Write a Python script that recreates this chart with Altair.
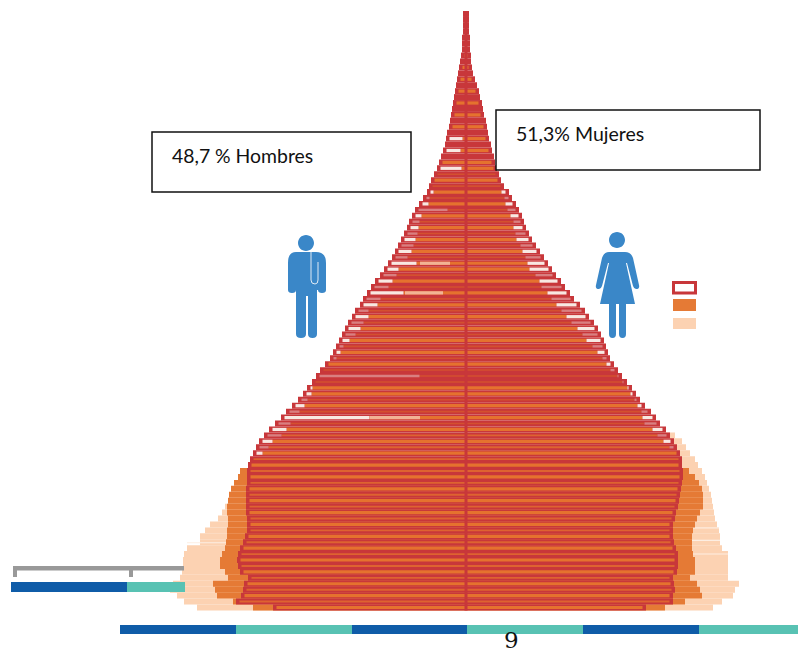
import altair as alt
import pandas as pd

# Population per one-year age group, ages 0..100 (116 units = one axis segment)
male = [193, 230, 225, 223, 222, 218, 226, 228, 229, 228,
        226, 223, 221, 219, 219, 219, 220, 220, 220, 220,
        220, 219, 219, 219, 218, 216, 213, 210, 207, 202,
        197, 191, 185, 180, 174, 168, 163, 159, 154, 150,
        146, 141, 136, 133, 130, 127, 124, 121, 118, 114,
        111, 106, 103, 99, 95, 91, 86, 82, 78, 74,
        71, 68, 65, 62, 59, 57, 54, 51, 47, 43,
        39, 37, 35, 32, 29, 27, 25, 23, 21, 20,
        19, 17, 16, 15, 14, 13, 12, 11, 10, 9,
        8, 7, 6, 5, 4, 4, 4, 3, 3, 3, 3]
female = [180, 207, 207, 209, 208, 207, 211, 212, 212, 212,
          210, 208, 207, 207, 207, 209, 210, 212, 213, 214,
          215, 216, 217, 217, 216, 216, 214, 211, 208, 204,
          200, 194, 190, 185, 179, 174, 170, 166, 161, 156,
          152, 148, 144, 142, 140, 138, 135, 132, 128, 123,
          119, 114, 108, 104, 99, 95, 90, 86, 82, 78,
          74, 70, 66, 63, 60, 58, 56, 53, 50, 46,
          43, 38, 35, 33, 31, 29, 28, 26, 25, 23,
          22, 21, 20, 18, 17, 16, 14, 13, 11, 9,
          7, 6, 5, 5, 4, 4, 4, 3, 3, 3, 3]
# Second series, ages 0..23
male_mid = [213, 233, 249, 251, 253, 238, 241, 246, 246, 244, 241, 240,
            239, 239, 238, 238, 239, 239, 238, 237, 235, 232, 228, 226]
female_mid = [199, 219, 236, 234, 231, 224, 229, 229, 229, 227, 226, 226,
              226, 227, 229, 231, 234, 237, 237, 237, 236, 233, 229, 223]
# Third series, ages 0..17 (men) and 0..29 (women)
male_far = [269, 282, 289, 296, 293, 286, 284, 283, 283, 282, 279, 266,
            266, 261, 256, 248, 244, 241]
female_far = [247, 256, 267, 269, 273, 262, 262, 262, 262, 262, 256, 254,
              254, 253, 251, 249, 248, 247, 246, 245, 243, 241, 239, 236,
              232, 229, 224, 220, 216, 209]
# Length of the pale end of each row, ages 0..100
tip_m = [0] * 26 + [6, 9, 10, 14, 14, 12, 85, 10, 9, 6, 5, 2, 0, 100,
                    0, 0, 3, 4, 4, 7, 10, 12, 12, 13, 10, 14, 14, 33, 14, 14,
                    13, 11, 25, 12, 13, 12, 11, 10, 8, 7, 6, 29, 6, 3, 3,
                    0, 0, 0, 21, 0, 0, 14, 0, 13] + [0] * 21
tip_f = [0] * 27 + [4, 7, 9, 10, 12, 10, 6, 4, 2, 2, 1, 1, 1,
                    4, 4, 4, 7, 10, 14, 15, 17, 19, 19, 20, 20, 19, 19, 20, 18,
                    17, 19, 17, 15, 14, 12, 12, 10, 9, 7, 8, 8, 7, 4, 4] + [0] * 30
bright_ages = [a for a in range(0, 37, 2)] + [37] + [a for a in range(41, 58, 2)] + \
              [a for a in range(58, 75, 2)] + [a for a in range(75, 101, 2)]
# Long pale rows that fade into the stripe: age, outer end, inner end (men's side)
fade_rows = [(32, 96, 46), (53, 61, 23), (58, 46, 16)]
# Faint breaks in the third series: age, inner end, outer end
pale_gaps = [(10.9, -279, -238), (13.4, 207, 253), (11.3, 208, 254), (9.0, 212, 262)]
# Bottom and left strips
strip_edges = [-346, -230, -114, 1, 117, 233, 340]
stub_edges = [-455, -339, -281]
strip_colors = ["#0f5ca8", "#58c2b3"]

RED = "#c8373a"
ORANGE = "#e57a35"
STRIPE = "#e5722e"
DIM = "#d4502f"
DIM_LOW = "#de6330"
LIGHT = "#fcd2b2"
BLUE = "#3a87c8"
WHITE_TIP = "#f8e8e2"
PINK_TIP = "#d97f80"

xs = alt.Scale(domain=[-458, 332], nice=False, zero=False)
ys = alt.Scale(domain=[-7.329, 101.01], nice=False, zero=False)


def rows(records):
    return pd.DataFrame(records, columns=["x0", "x1", "y0", "y1", "c"])


def rect_layer(df):
    return alt.Chart(df).mark_rect(strokeWidth=0).encode(
        x=alt.X("x0:Q", scale=xs, axis=None),
        x2="x1:Q",
        y=alt.Y("y0:Q", scale=ys, axis=None),
        y2="y1:Q",
        color=alt.Color("c:N", scale=None, legend=None),
    )


light, mid, red, dim, bright, tips, fades, gaps = [], [], [], [], [], [], [], []
for a, v in enumerate(male_far):
    light.append((-v, 0, a - 0.5, a + 0.5, LIGHT))
for a, v in enumerate(female_far):
    light.append((0, v, a - 0.5, a + 0.5, LIGHT))
for a, v in enumerate(male_mid):
    mid.append((-v, 0, a - 0.5, a + 0.5, ORANGE))
for a, v in enumerate(female_mid):
    mid.append((0, v, a - 0.5, a + 0.5, ORANGE))
for a in range(101):
    red.append((-male[a], female[a], a - 0.5, a + 0.5, RED))
    is_bright = a in bright_ages
    half = 0.27 if is_bright else (0.16 if a < 30 else 0.13)
    tip_half = 0.27 if is_bright else 0.2
    for sign, edge, tip in ((-1, male[a], tip_m[a]), (1, female[a], tip_f[a])):
        outer = max(edge - 3.5, 0)
        inner = max(outer - tip, 0)
        if is_bright:
            bright.append((0, sign * inner, a - half, a + half, STRIPE))
        elif a < 75:
            dim.append((0, sign * inner, a - half, a + half, DIM_LOW if a < 30 else DIM))
        if tip > 0:
            tips.append((sign * inner, sign * outer, a - tip_half, a + tip_half,
                         WHITE_TIP if is_bright else PINK_TIP))
for a, o, i in fade_rows:
    fades.append((-o, -i, a - 0.27, a + 0.27, "#f2b394"))
for a, p, q in pale_gaps:
    gaps.append((p, q, a - 0.08, a + 0.08, "#fdeee2"))
center = [(-1.5, 1.5, -0.5, 100.5, RED)]

layers = [rect_layer(rows(r)) for r in (light, gaps, mid, red, dim, bright, tips, fades, center)]

# strips
strip_df = pd.DataFrame({
    "x0": strip_edges[:-1], "x1": strip_edges[1:],
    "c": [strip_colors[i % 2] for i in range(len(strip_edges) - 1)]})
stub_df = pd.DataFrame({
    "x0": stub_edges[:-1], "x1": stub_edges[1:],
    "c": [strip_colors[i % 2] for i in range(len(stub_edges) - 1)]})


def strip(df, top, bottom):
    return alt.Chart(df).mark_rect(strokeWidth=0).encode(
        x=alt.X("x0:Q", scale=xs, axis=None), x2="x1:Q",
        y=alt.value(top - 8), y2=alt.value(bottom - 8),
        color=alt.Color("c:N", scale=None, legend=None))


def box(x0, x1, y0, y1, fill, stroke=None, sw=0):
    kw = {"fill": fill, "strokeWidth": sw}
    if stroke:
        kw["stroke"] = stroke
    return alt.Chart(pd.DataFrame({"k": [0]})).mark_rect(**kw).encode(
        x=alt.value(x0 - 8), x2=alt.value(x1 - 8),
        y=alt.value(y0 - 8), y2=alt.value(y1 - 8))


def label(text, x, y, size, font):
    return alt.Chart(pd.DataFrame({"t": [text]})).mark_text(
        align="left", baseline="alphabetic", fontSize=size, font=font, color="#111111"
    ).encode(x=alt.value(x - 8), y=alt.value(y - 8), text="t:N")


def icon(path, x, y, **kw):
    return alt.Chart(pd.DataFrame({"k": [0]})).mark_point(
        shape=path, size=4, opacity=1, **kw
    ).encode(x=alt.value(x - 8), y=alt.value(y - 8))


MAN = ("M-8,-47a8,8 0 1,0 16,0a8,8 0 1,0 -16,0Z "
       "M-10,-38 L10,-38 Q20,-38 20,-27 L20,0 Q20,3 16,3 Q12,3 12,0 L11,0 L11,44 "
       "Q11,48 6.5,48 Q2,48 2,44 L2,6 L0,6 L0,44 Q0,48 -5,48 Q-10,48 -10,44 L-10,0 "
       "Q-10,3 -14,3 Q-18,3 -18,0 L-18,-27 Q-18,-38 -10,-38Z")
POCKET = "M5,-38 L5,-10 Q5,-6 9,-6 Q12,-6 12,-10 L12,-28"
WOMAN = ("M-8,-50a8,8 0 1,0 16,0a8,8 0 1,0 -16,0Z "
         "M-8,-38 L8,-38 Q14,-38 16,-32 L22,-5 Q23,-1 19,-1 Q17,-1 16,-4 L10,-27 L9,-27 "
         "L18,14 L9,14 L9,44 Q9,48 5.5,48 Q2,48 2,44 L2,14 L-1,14 L-1,44 Q-1,48 -4.5,48 "
         "Q-8,48 -8,44 L-8,14 L-17,14 L-8,-27 L-9,-27 L-15,-4 Q-16,-1 -18,-1 Q-22,-1 -21,-5 "
         "L-15,-32 Q-13,-38 -8,-38Z")

annot = [
    box(13, 184, 566, 570.5, "#999999"),
    box(13, 17, 566, 577, "#999999"),
    box(129, 133, 566, 577, "#999999"),
    strip(stub_df, 582, 592),
    strip(strip_df, 625, 634),
    box(152, 411, 132, 192, "white", "#111111", 1.5),
    box(496, 760, 110, 170, "white", "#111111", 1.5),
    label("48,7 % Hombres", 172, 163, 19.4, "Lato"),
    label("51,3% Mujeres", 516, 141, 19.5, "Lato"),
    label("9", 504, 648, 23, "DejaVu Serif"),
    icon(MAN, 306, 290, filled=True, fill=BLUE, strokeWidth=0),
    icon(POCKET, 306, 290, filled=False, stroke="#dfeaf5", strokeWidth=1),
    icon(WOMAN, 617, 290, filled=True, fill=BLUE, strokeWidth=0),
    box(673.5, 695.5, 282.5, 293, "white", RED, 3),
    box(673, 696, 299, 311, ORANGE),
    box(673, 696, 318, 329, LIGHT),
]

chart = alt.layer(*layers, *annot).properties(
    width=790, height=643, padding=0, autosize=alt.AutoSizeParams(type="none")
).configure_view(stroke=None)

chart.save("out.html", embed_options={"renderer": "svg", "actions": False})
